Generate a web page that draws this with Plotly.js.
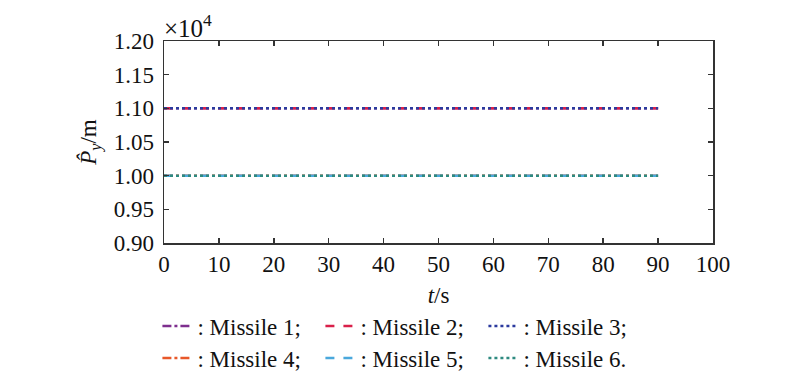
<!DOCTYPE html>
<html>
<head>
<meta charset="utf-8">
<script src="https://cdn.plot.ly/plotly-3.0.1.min.js"></script>
<style>html,body{margin:0;padding:0;background:#fff;}#chart{width:800px;height:382px;}</style>
</head>
<body>
<div id="chart"></div>
<script>
// Data
const time = [0, 90];
const missileNames = [': Missile 1;', ': Missile 2;', ': Missile 3;', ': Missile 4;', ': Missile 5;', ': Missile 6.'];
const missile1 = [11000, 11000];
const missile2 = [11000, 11000];
const missile3 = [11000, 11000];
const missile4 = [10000, 10000];
const missile5 = [10000, 10000];
const missile6 = [10000, 10000];
const yTickVals = [9000, 9500, 10000, 10500, 11000, 11500, 12000];
const yTickText = ['0.90', '0.95', '1.00', '1.05', '1.10', '1.15', '1.20'];
const xTickVals = [0, 10, 20, 30, 40, 50, 60, 70, 80, 90, 100];

const series = [missile1, missile2, missile3, missile4, missile5, missile6];
const colors = ['#7E2F8E', '#D9204A', '#2B3A9E', '#E8582A', '#4AA8DC', '#2E8A80'];
const dashes = ['dashdot', 'dash', 'dot', 'dashdot', 'dash', 'dot'];
const legendIds = ['legend', 'legend', 'legend', 'legend2', 'legend2', 'legend2'];

const traces = series.map((s, i) => ({
  x: time, y: s, type: 'scatter', mode: 'lines',
  name: missileNames[i], legend: legendIds[i],
  line: {color: colors[i], dash: dashes[i], width: 2.5}
}));

const fam = 'Liberation Serif, Tinos, DejaVu Serif, serif';
const font = {family: fam, size: 23, color: '#111'};
const axisCommon = {
  showline: true, linecolor: '#333', linewidth: 1.5, mirror: 'ticks',
  ticks: 'inside', ticklen: 5, tickwidth: 1.5, tickcolor: '#333',
  showgrid: false, zeroline: false, tickfont: font, automargin: false
};
const legendCommon = {
  orientation: 'h', x: -0.012, xanchor: 'left', yanchor: 'top',
  font: {family: fam, size: 23, color: '#111'},
  entrywidth: 118, entrywidthmode: 'pixels',
  bgcolor: 'rgba(0,0,0,0)'
};

const layout = {
  width: 800, height: 382,
  margin: {l: 164, r: 87, t: 41, b: 139, autoexpand: false},
  paper_bgcolor: '#fff', plot_bgcolor: '#fff',
  font: font,
  showlegend: true,
  xaxis: Object.assign({}, axisCommon, {
    range: [0, 100], tickvals: xTickVals,
    title: {text: '<i>t</i>/s', font: font, standoff: 11}
  }),
  yaxis: Object.assign({}, axisCommon, {
    range: [9000, 12000], tickvals: yTickVals, ticktext: yTickText,
    ticklabelstandoff: 4,
    title: {text: '<i>P\u0302</i><sub><i>y</i></sub>/m', font: font, standoff: 10}
  }),
  legend: Object.assign({}, legendCommon, {y: -0.305}),
  legend2: Object.assign({}, legendCommon, {y: -0.463}),
  annotations: [{
    text: '×10<sup>4</sup>', xref: 'paper', yref: 'paper', x: -0.003, y: 1.0,
    xanchor: 'left', yanchor: 'bottom', showarrow: false,
    font: {family: fam, size: 25, color: '#111'}, yshift: -3
  }]
};

Plotly.newPlot('chart', traces, layout, {staticPlot: true, displayModeBar: false});
</script>
</body>
</html>
